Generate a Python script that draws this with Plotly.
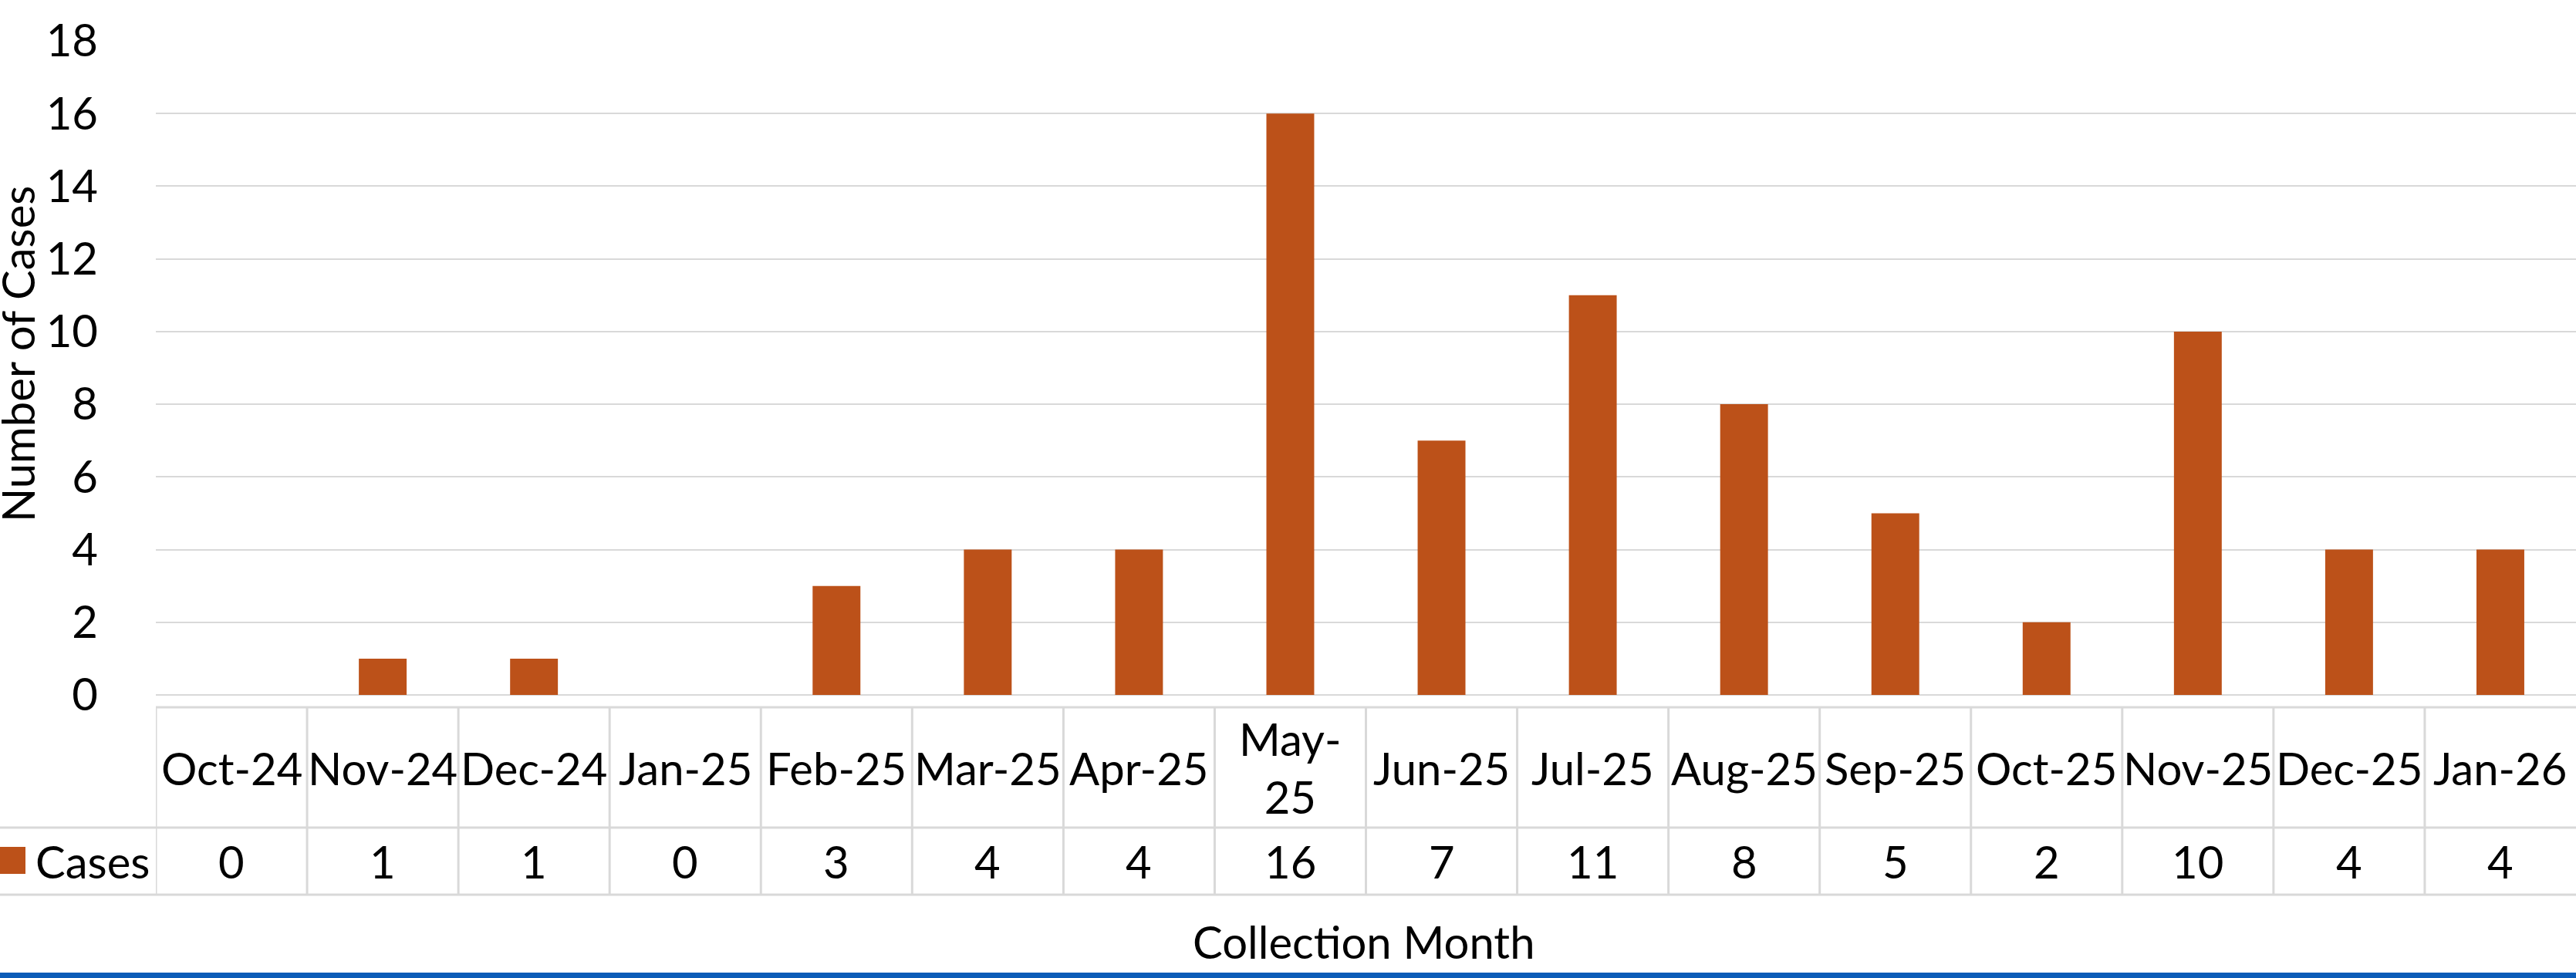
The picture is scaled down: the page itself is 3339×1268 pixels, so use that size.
import plotly.graph_objects as go

# ---- data ----
months = ["Oct-24", "Nov-24", "Dec-24", "Jan-25", "Feb-25", "Mar-25", "Apr-25", "May-25",
          "Jun-25", "Jul-25", "Aug-25", "Sep-25", "Oct-25", "Nov-25", "Dec-25", "Jan-26"]
cases = [0, 1, 1, 0, 3, 4, 4, 16, 7, 11, 8, 5, 2, 10, 4, 4]
series_name = "Cases"
y_ticks = [0, 2, 4, 6, 8, 10, 12, 14, 16, 18]
x_title = "Collection Month"
y_title = "Number of Cases"

# ---- layout constants (pixels) ----
W, H = 3339, 1268
L, R, T, B = 202, 0, 53, 367
PW, PH = W - L - R, H - T - B
FONT = "Lato, Carlito, Calibri, sans-serif"
FS = 58
BAR = "#BC5119"
GRID = "#D9D9D9"
WRAP = {"May-25"}


def px(xp):
    return (xp - L) / PW


def py(yp):
    return (H - B - yp) / PH


fig = go.Figure(go.Bar(x=months, y=cases, marker_color=BAR, marker_line_width=0,
                       name=series_name, showlegend=False))

shapes = []
annotations = []

table_top, row1, row2 = 917, 1073, 1160
# horizontal table lines
shapes.append(dict(type="line", xref="paper", yref="paper", x0=px(L), x1=1,
                   y0=py(table_top), y1=py(table_top), line=dict(color=GRID, width=3)))
for yy in (row1, row2):
    shapes.append(dict(type="line", xref="paper", yref="paper", x0=px(0), x1=1,
                       y0=py(yy), y1=py(yy), line=dict(color=GRID, width=3)))
# vertical table lines at category boundaries
for i in range(len(months)):
    shapes.append(dict(type="line", xref="x", yref="paper", x0=i - 0.5, x1=i - 0.5,
                       y0=py(table_top), y1=py(row2), line=dict(color=GRID, width=3)))

for m, v in zip(months, cases):
    label = m.replace("-", "-<br>") if m in WRAP else m
    annotations.append(dict(x=m, xref="x", y=py((table_top + row1) / 2), yref="paper",
                            text=label, showarrow=False, xanchor="center", yanchor="middle",
                            font=dict(family=FONT, size=FS, color="black")))
    annotations.append(dict(x=m, xref="x", y=py((row1 + row2) / 2), yref="paper",
                            text=str(v), showarrow=False, xanchor="center", yanchor="middle",
                            font=dict(family=FONT, size=FS, color="black")))

# legend key in the table
shapes.append(dict(type="rect", xref="paper", yref="paper", x0=px(0), x1=px(33),
                   y0=py(1098), y1=py(1133), fillcolor=BAR, line=dict(width=0)))
annotations.append(dict(x=px(196), xref="paper", y=py((row1 + row2) / 2), yref="paper",
                        text=series_name, showarrow=False, xanchor="right", yanchor="middle",
                        font=dict(family=FONT, size=FS, color="black")))

# axis titles
annotations.append(dict(x=px(1768), xref="paper", y=py(1220), yref="paper", text=x_title,
                        showarrow=False, xanchor="center", yanchor="middle",
                        font=dict(family=FONT, size=FS, color="black")))
annotations.append(dict(x=px(22), xref="paper", y=py(459), yref="paper", text=y_title,
                        textangle=-90, showarrow=False, xanchor="center", yanchor="middle",
                        font=dict(family=FONT, size=FS, color="black")))

# blue bottom line
shapes.append(dict(type="rect", xref="paper", yref="paper", x0=px(0), x1=1,
                   y0=py(1261), y1=py(1272), fillcolor="#0B5CB8", line=dict(width=0)))

fig.update_layout(
    width=W, height=H,
    margin=dict(l=L, r=R, t=T, b=B),
    paper_bgcolor="white", plot_bgcolor="white",
    bargap=0.684,
    shapes=shapes, annotations=annotations,
    font=dict(family=FONT, size=FS, color="black"),
    xaxis=dict(type="category", range=[-0.5, len(months) - 0.5], showticklabels=False,
               showgrid=False, zeroline=False, showline=False, ticks=""),
    yaxis=dict(range=[0, 18], tickvals=y_ticks, showgrid=True, gridcolor=GRID, gridwidth=2,
               zeroline=True, zerolinecolor=GRID, zerolinewidth=2, showline=False,
               ticks="", ticklabelstandoff=74,
               tickfont=dict(family=FONT, size=FS, color="black")),
)

fig.write_html("out.html",
               config={"displayModeBar": False, "staticPlot": True},
               post_script="document.body.style.margin='0';document.body.style.overflow='hidden';")
